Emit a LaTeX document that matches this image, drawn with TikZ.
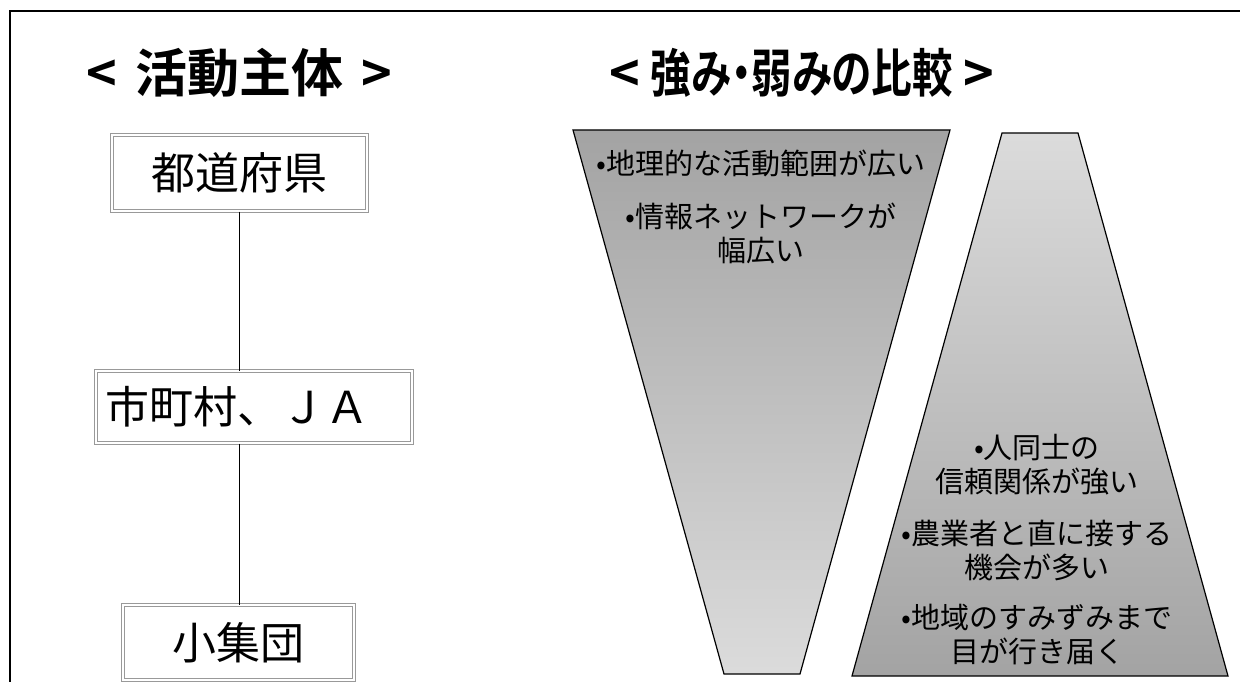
\documentclass[tikz,border=0pt]{standalone}
\usepackage{fontspec}
\setmainfont{Noto Sans CJK JP}
\newfontfamily\jpfont{Noto Sans CJK JP}
\newfontfamily\jpbold{Noto Sans CJK JP Bold}
\newfontfamily\jpboldp[RawFeature=+palt]{Noto Sans CJK JP Bold}
\usetikzlibrary{calc}
\begin{document}
\begin{tikzpicture}[x=1pt,y=-1pt,
  framebox/.style={draw=gray!80, double=white, line width=1pt, double distance=1.6pt, fill=white, inner sep=0pt},
  boxtext/.style={font=\jpfont\fontsize{44}{48}\selectfont},
  title/.style={font=\jpbold\fontsize{52}{56}\selectfont, inner sep=0pt},
  trap/.style={draw=black, line width=1.2pt},
  itemtext/.style={font=\jpfont\fontsize{29}{34}\selectfont, align=center, inner sep=0pt},
  link/.style={draw=black, line width=1pt}
]
\useasboundingbox (0,0) rectangle (1240,682);
\fill[white] (0,0) rectangle (1240,682);
% outer frame (top and left visible)
\draw[line width=2pt] (10,690) -- (10,11) -- (1250,11);

% titles
\node[title] (t1) at (239,73) {<\hspace{0.35em}活動主体\hspace{0.35em}>};
\node[title, font=\jpboldp\fontsize{52}{56}\selectfont] (t2) at (802,73) {<\hspace{0.2em}\scalebox{0.78}[1]{強み・弱みの比較}\hspace{0.2em}>};

% hierarchy boxes
\node[framebox, minimum width=255pt, minimum height=76pt] (b1) at (239.5,173) {};
\node[boxtext] (b1t) at (b1.center) {都道府県};
\node[framebox, minimum width=316pt, minimum height=72pt] (b2) at (254,407) {};
\node[boxtext] (b2t) at (237,407) {市町村、ＪＡ};
\node[framebox, minimum width=231pt, minimum height=75pt] (b3) at (238.5,642.5) {};
\node[boxtext] (b3t) at (b3.center) {小集団};

\coordinate (l1) at (239,0);
\draw[link] (b1.south -| l1) -- (b2.north -| l1);
\draw[link] (b2.south -| l1) -- (b3.north -| l1);

% left trapezoid (inverted)
\coordinate (A1) at (573,130);
\coordinate (A2) at (950,130);
\coordinate (A3) at (800,674);
\coordinate (A4) at (724,674);
\shade[top color=gray!80!black!60, bottom color=gray!28] (A1) -- (A2) -- (A3) -- (A4) -- cycle;
\draw[trap] (A1) -- (A2) -- (A3) -- (A4) -- cycle;

% right trapezoid
\coordinate (B1) at (1002,133);
\coordinate (B2) at (1078,133);
\coordinate (B3) at (1228,676);
\coordinate (B4) at (852,676);
\shade[top color=gray!28, bottom color=gray!80!black!60] (B1) -- (B2) -- (B3) -- (B4) -- cycle;
\draw[trap] (B1) -- (B2) -- (B3) -- (B4) -- cycle;

% left texts
\node[itemtext] (s1) at (761,163) {•地理的な活動範囲が広い};
\node[itemtext] (s2) at (761,233) {•情報ネットワークが\\幅広い};

% right texts
\node[itemtext] (w1) at (1037,465) {•人同士の\\信頼関係が強い};
\node[itemtext] (w2) at (1037,550) {•農業者と直に接する\\機会が多い};
\node[itemtext] (w3) at (1037,635) {•地域のすみずみまで\\目が行き届く};
\end{tikzpicture}
\end{document}
